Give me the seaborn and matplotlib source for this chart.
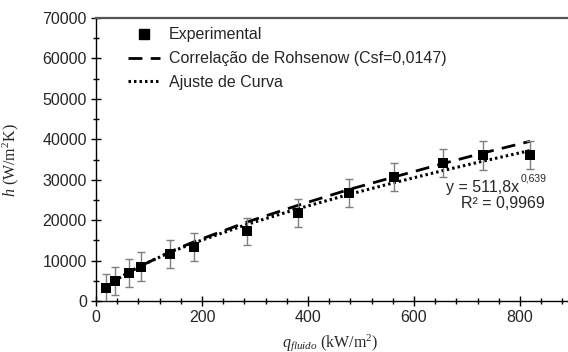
import numpy as np
import pandas as pd
import seaborn as sns
import matplotlib
matplotlib.use("Agg")
import matplotlib.pyplot as plt
from matplotlib.lines import Line2D
from matplotlib.ticker import MultipleLocator

# ---- data ----
q_exp = [18, 35, 63, 85, 140, 184, 284, 382, 478, 563, 655, 730, 819]
h_exp = [3150, 4950, 7000, 8500, 11600, 13300, 17200, 21700, 26800, 30700, 34100, 36000, 36100]
h_err = [3500, 3500, 3500, 3500, 3400, 3400, 3400, 3500, 3500, 3500, 3500, 3600, 3500]
h_rohsenow = [3100, 4800, 7100, 8700, 12200, 14600, 19500, 23700, 27600, 30700, 34000, 36600, 39500]
h_fit = [3250, 4960, 7230, 8750, 12040, 14330, 18920, 22860, 26390, 29290, 32270, 34580, 37220]

legend_labels = ["Experimental", "Correlação de Rohsenow (Csf=0,0147)", "Ajuste de Curva"]
eq_text = "y = 511,8x"
eq_exp = "0,639"
r2_text = "R² = 0,9969"

df = pd.DataFrame({"q": q_exp, "h": h_exp, "err": h_err,
                   "roh": h_rohsenow, "fit": h_fit})

sns.set_style("white")
plt.rcParams["font.family"] = ["Liberation Sans", "DejaVu Sans"]
plt.rcParams["mathtext.fontset"] = "custom"
plt.rcParams["mathtext.rm"] = "Liberation Serif"
plt.rcParams["mathtext.it"] = "Liberation Serif:italic"

fig = plt.figure(figsize=(5.68, 3.52), dpi=100)
ax = fig.add_axes([96 / 568, 1 - 301 / 352, 477 / 568, 283 / 352])

txtc = "#262626"

sns.lineplot(data=df, x="q", y="roh", ax=ax, color="black", lw=2.0, zorder=2)
ax.lines[-1].set_dashes((5, 3))
sns.lineplot(data=df, x="q", y="fit", ax=ax, color="black", lw=2.2, zorder=2)
ax.lines[-1].set_linestyle((0, (0.8, 1.0)))

ax.errorbar(df["q"], df["h"], yerr=df["err"], fmt="none", ecolor="#7f7f7f",
            elinewidth=1.0, capsize=3, capthick=1.0, zorder=3)
sns.scatterplot(data=df, x="q", y="h", ax=ax, marker="s", s=62, color="black",
                edgecolor="black", linewidth=0, zorder=4)

ax.set_xlim(0, 900)
ax.set_ylim(0, 70000)
ax.xaxis.set_major_locator(MultipleLocator(200))
ax.xaxis.set_minor_locator(MultipleLocator(40))
ax.yaxis.set_major_locator(MultipleLocator(10000))
ax.yaxis.set_minor_locator(MultipleLocator(5000))
ax.tick_params(axis="both", which="major", direction="inout", length=7, width=1,
               color="black", labelsize=11.5, labelcolor=txtc, pad=3)
ax.tick_params(axis="both", which="minor", direction="inout", length=4, width=1,
               color="black")
ax.tick_params(axis="x", which="both", bottom=True)
ax.tick_params(axis="y", which="both", left=True)

for s in ["left", "bottom"]:
    ax.spines[s].set_color("black")
    ax.spines[s].set_linewidth(1.0)
ax.spines["right"].set_visible(False)
ax.spines["top"].set_color("#555555")
ax.spines["top"].set_linewidth(1.6)

ax.set_xlabel(r"$q_{fluido}$ (kW/m$^2$)", family="Liberation Serif", fontsize=11.5,
              color=txtc)
ax.set_ylabel(r"$h$ (W/m$^2$K)", family="Liberation Serif", fontsize=11.5,
              color=txtc)
ax.xaxis.set_label_coords((330 - 96) / 477, -(332 - 301) / 283)
ax.yaxis.set_label_coords(-(96 - 21) / 477, (301 - 160) / 283)

handles = [
    Line2D([], [], marker="s", color="black", ls="none", markersize=7.5),
    Line2D([], [], color="black", lw=2.0, dashes=(5, 3)),
    Line2D([], [], color="black", lw=2.2, ls=(0, (0.8, 1.0))),
]
ax.legend(handles, legend_labels, loc="upper left", frameon=False,
          bbox_to_anchor=((122 - 96) / 477, 1 - 3 / 283), borderaxespad=0,
          fontsize=11.5, handlelength=2.0, handletextpad=0.55, labelspacing=0.55,
          labelcolor=txtc)

ax.text(799, 28100, eq_text, ha="right", va="center", fontsize=11.5, color=txtc)
ax.annotate(eq_exp, xy=(799, 28100), xytext=(1, 3), textcoords="offset points",
            ha="left", va="bottom", fontsize=7.5, color=txtc)
ax.text(768, 24100, r2_text, ha="center", va="center", fontsize=11.5, color=txtc)

fig.savefig("out.png", dpi=100)
